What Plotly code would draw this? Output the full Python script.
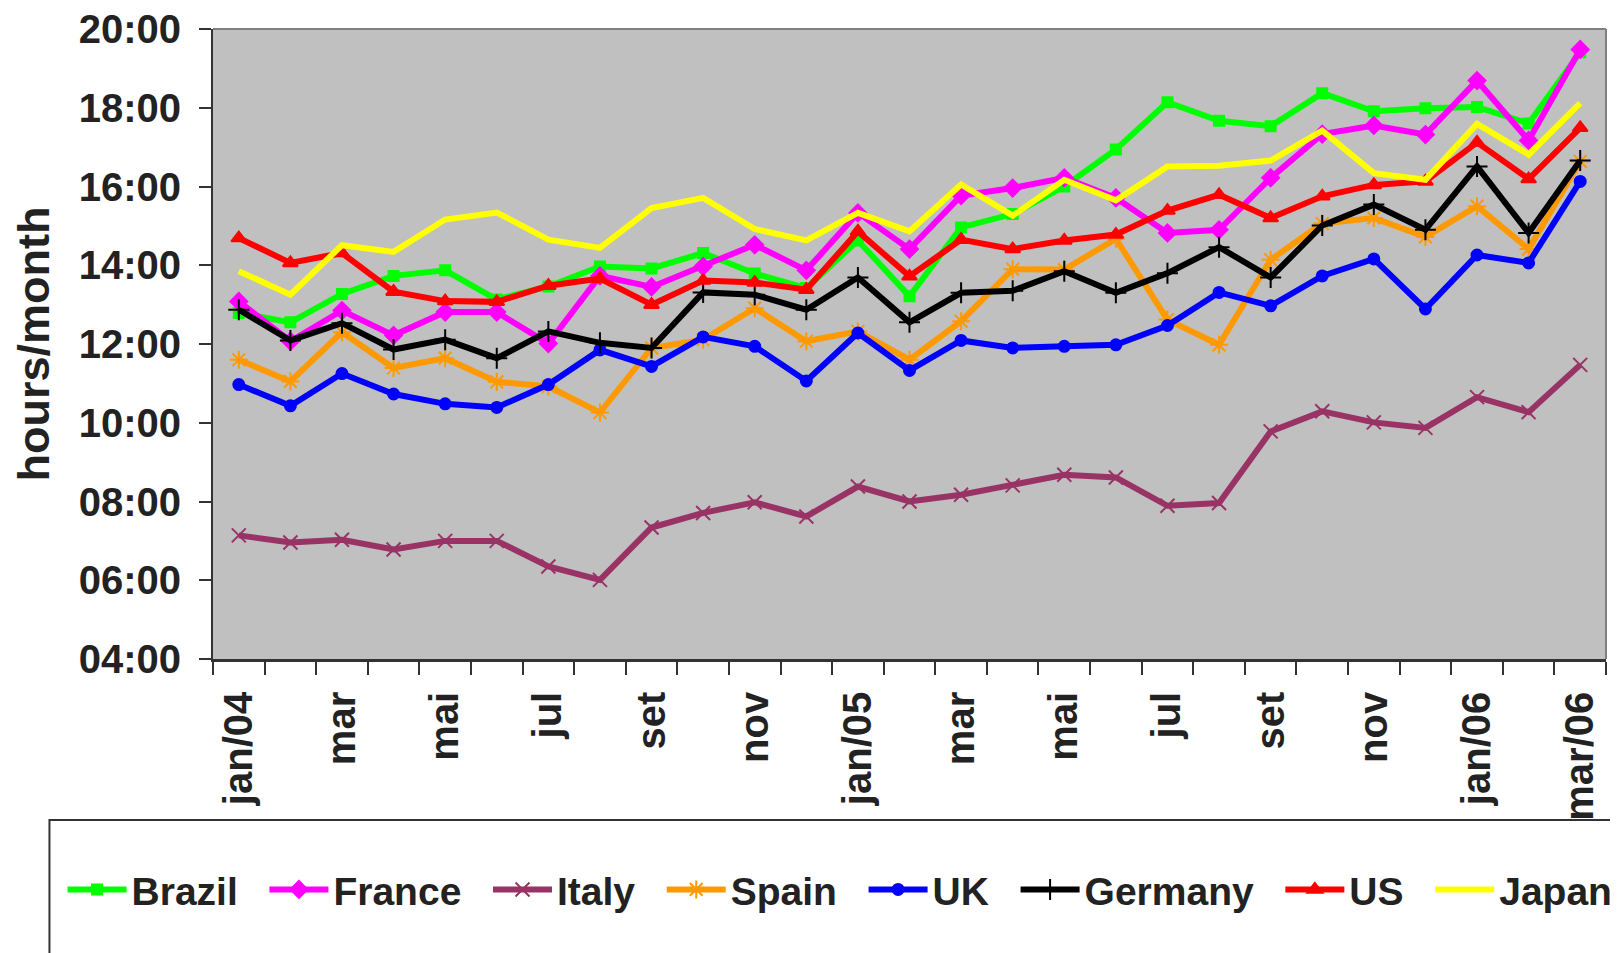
import plotly.graph_objects as go

# Month categories (jan/04 .. mar/06)
months = ["jan/04", "fev/04", "mar/04", "abr/04", "mai/04", "jun/04", "jul/04", "ago/04",
          "set/04", "out/04", "nov/04", "dez/04", "jan/05", "fev/05", "mar/05", "abr/05",
          "mai/05", "jun/05", "jul/05", "ago/05", "set/05", "out/05", "nov/05", "dez/05",
          "jan/06", "fev/06", "mar/06"]
month_labels = ["jan/04", "", "mar", "", "mai", "", "jul", "", "set", "", "nov", "",
                "jan/05", "", "mar", "", "mai", "", "jul", "", "set", "", "nov", "",
                "jan/06", "", "mar/06"]

# Hours per month (decimal hours)
brazil = [12.79, 12.55, 13.27, 13.73, 13.87, 13.13, 13.46, 13.97, 13.92, 14.31, 13.79, 13.42,
          14.63, 13.21, 14.96, 15.30, 16.00, 16.94, 18.14, 17.67, 17.53, 18.37, 17.91, 17.99,
          18.02, 17.60, 19.41]
france = [13.08, 12.07, 12.85, 12.22, 12.81, 12.81, 12.01, 13.73, 13.45, 13.97, 14.52, 13.87,
          15.33, 14.41, 15.77, 15.96, 16.22, 15.71, 14.82, 14.90, 16.22, 17.33, 17.55, 17.32,
          18.69, 17.17, 19.48]
italy = [7.14, 6.96, 7.03, 6.78, 7.00, 7.00, 6.35, 6.01, 7.34, 7.71, 7.98, 7.62,
         8.38, 8.00, 8.17, 8.41, 8.68, 8.61, 7.89, 7.96, 9.78, 10.29, 10.01, 9.87,
         10.65, 10.27, 11.47]
spain = [11.60, 11.05, 12.30, 11.39, 11.64, 11.04, 10.92, 10.26, 11.90, 12.11, 12.91, 12.07,
         12.32, 11.60, 12.58, 13.90, 13.89, 14.67, 12.62, 11.98, 14.14, 15.06, 15.20, 14.72,
         15.50, 14.41, 16.64]
uk = [10.97, 10.43, 11.25, 10.73, 10.48, 10.39, 10.97, 11.85, 11.43, 12.18, 11.94, 11.06,
      12.28, 11.33, 12.09, 11.90, 11.94, 11.98, 12.47, 13.31, 12.97, 13.73, 14.16, 12.89,
      14.26, 14.06, 16.13]
germany = [12.87, 12.09, 12.53, 11.86, 12.11, 11.64, 12.32, 12.03, 11.90, 13.31, 13.25, 12.87,
           13.69, 12.55, 13.30, 13.35, 13.85, 13.30, 13.80, 14.46, 13.69, 15.01, 15.54, 14.90,
           16.51, 14.82, 16.66]
us = [14.69, 14.06, 14.31, 13.33, 13.09, 13.07, 13.48, 13.66, 13.00, 13.61, 13.56, 13.38,
      14.86, 13.72, 14.65, 14.41, 14.63, 14.78, 15.39, 15.79, 15.20, 15.75, 16.04, 16.13,
      17.12, 16.19, 17.49]
japan = [13.85, 13.25, 14.51, 14.34, 15.16, 15.34, 14.65, 14.44, 15.45, 15.71, 14.92, 14.63,
         15.33, 14.86, 16.05, 15.26, 16.17, 15.65, 16.51, 16.53, 16.66, 17.42, 16.34, 16.17,
         17.59, 16.81, 18.12]

y_ticks = [4, 6, 8, 10, 12, 14, 16, 18, 20]
y_tick_labels = ["04:00", "06:00", "08:00", "10:00", "12:00", "14:00", "16:00", "18:00", "20:00"]

series = [
    ("Brazil", brazil, "#00FF00", "square", 10, 2),
    ("France", france, "#FF00FF", "diamond", 13, 2),
    ("Italy", italy, "#993366", "x-thin-open", 14, 2),
    ("Spain", spain, "#FF9900", "asterisk-open", 15, 2),
    ("UK", uk, "#0000FF", "circle", 11, 2),
    ("Germany", germany, "#000000", "cross-thin-open", 15, 2),
    ("US", us, "#FF0000", "triangle-up", 13, 2),
    ("Japan", japan, "#FFFF00", None, 0, 0),
]

pad = "\u00a0\u00a0"  # spacing after legend text
fig = go.Figure()
for i, (name, vals, color, sym, size, lw) in enumerate(series):
    label = name + (pad if i < len(series) - 1 else "")
    if sym is None:
        fig.add_trace(go.Scatter(x=months, y=vals, name=label, mode="lines",
                                 line=dict(color=color, width=6)))
    else:
        fig.add_trace(go.Scatter(x=months, y=vals, name=label, mode="lines+markers",
                                 line=dict(color=color, width=6),
                                 marker=dict(symbol=sym, size=size, color=color,
                                             line=dict(color=color, width=lw))))

font_family = "Liberation Sans, Arial, sans-serif"
text_color = "#222222"

# page body has an 8px margin, so the figure is 8px smaller and margins shifted
fig.update_layout(
    width=1610, height=945,
    margin=dict(l=205, r=12, t=21, b=294, autoexpand=False),
    paper_bgcolor="white",
    plot_bgcolor="#C0C0C0",
    font=dict(family=font_family, size=39, color=text_color, weight="bold"),
    showlegend=True,
    legend=dict(orientation="h", x=-0.108, xanchor="left", y=-0.366, yanchor="middle",
                font=dict(family=font_family, size=39, color=text_color, weight="bold"),
                bgcolor="rgba(0,0,0,0)", itemwidth=59, traceorder="normal"),
    xaxis=dict(
        type="category", automargin=False,
        tickmode="array", tickvals=months, ticktext=month_labels,
        tickson="boundaries", ticks="outside", ticklen=13, tickwidth=1.5, tickcolor="#333333",
        tickangle=-90, ticklabelstandoff=14, ticklabeloverflow="allow",
        showline=True, linecolor="#333333", linewidth=2.5,
        showgrid=False, zeroline=False,
        range=[-0.5, 26.5],
        tickfont=dict(family=font_family, size=40, color=text_color, weight="bold"),
    ),
    yaxis=dict(
        range=[4, 20], tickmode="array", tickvals=y_ticks, ticktext=y_tick_labels,
        automargin=False, ticklabeloverflow="allow",
        ticks="outside", ticklen=12, tickwidth=1.5, tickcolor="#333333",
        ticklabelstandoff=10,
        showline=True, linecolor="#333333", linewidth=2,
        showgrid=False, zeroline=False,
        tickfont=dict(family=font_family, size=40, color=text_color, weight="bold"),
        title=dict(text="hours/month", standoff=34,
                   font=dict(family=font_family, size=45, color=text_color, weight="bold")),
    ),
    shapes=[
        # top and right plot border
        dict(type="line", xref="paper", yref="paper", x0=0, x1=1, y0=1, y1=1,
             line=dict(color="#808080", width=2)),
        dict(type="line", xref="paper", yref="paper", x0=1, x1=1, y0=0, y1=1,
             line=dict(color="#808080", width=2)),
        # legend frame
        dict(type="rect", xref="paper", yref="paper", x0=-0.1174, x1=1.05, y0=-0.6, y1=-0.2556,
             line=dict(color="#333333", width=2), fillcolor="rgba(0,0,0,0)"),
    ],
)

fig.write_html("out.html")
